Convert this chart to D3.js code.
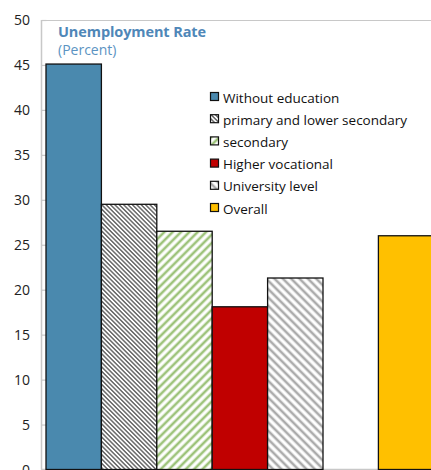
<!DOCTYPE html>
<html>
<head>
<meta charset="utf-8">
<script src="https://cdn.jsdelivr.net/npm/d3@7"></script>
<style>
  html, body { margin: 0; padding: 0; background: #fff; overflow: hidden; }
  svg { display: block; }
  text { font-family: "Open Sans", Lato, sans-serif; }
</style>
</head>
<body>
<svg id="chart" width="431" height="470"></svg>
<script>
// Unemployment rate by education level (percent)
const categories = ["Without education", "primary and lower secondary", "secondary",
                    "Higher vocational", "University level", "Overall"];
const values = [45.1, 29.5, 26.5, 18.1, 21.3, 26.0];
// position of each bar along the category axis (slot 5 is left empty)
const slots = [0, 1, 2, 3, 4, 6];
const slotCount = 7;
const yTicks = [0, 5, 10, 15, 20, 25, 30, 35, 40, 45, 50];
const fills = ["#4a89ae", "url(#hatchDense)", "url(#hatchGreen)", "#c00000", "url(#hatchGrey)", "#ffc000"];

const svg = d3.select("#chart");
const defs = svg.append("defs");

function hatch(id, spacing, stroke, strokeWidth, angle) {
  const p = defs.append("pattern")
    .attr("id", id)
    .attr("patternUnits", "userSpaceOnUse")
    .attr("width", spacing).attr("height", spacing)
    .attr("patternTransform", `rotate(${angle})`);
  p.append("rect").attr("width", spacing).attr("height", spacing).attr("fill", "#fff");
  p.append("line")
    .attr("x1", spacing / 2).attr("x2", spacing / 2)
    .attr("y1", 0).attr("y2", spacing)
    .attr("stroke", stroke).attr("stroke-width", strokeWidth);
}
hatch("hatchDense", 3.1, "#444", 1.2, -45);
hatch("hatchGreen", 5.9, "#9dc37a", 2.6, 45);
hatch("hatchGrey", 5.9, "#ababab", 2.6, -45);

const plot = { left: 41, top: 20, bottom: 469.5, barStart: 46, slotW: 55.4 };

const y = d3.scaleLinear().domain([0, 50]).range([plot.bottom, plot.top]);
const x = d3.scaleBand()
  .domain(d3.range(slotCount))
  .range([plot.barStart, plot.barStart + slotCount * plot.slotW])
  .padding(0);

// plot frame
svg.append("line").attr("x1", plot.left).attr("x2", 431)
  .attr("y1", plot.top + 0.5).attr("y2", plot.top + 0.5)
  .attr("stroke", "#c8c8c8").attr("stroke-width", 1);
svg.append("line").attr("x1", plot.left).attr("x2", 431)
  .attr("y1", plot.bottom).attr("y2", plot.bottom)
  .attr("stroke", "#c8c8c8").attr("stroke-width", 1.5);

// value axis with inward ticks
const yAxis = svg.append("g")
  .attr("transform", `translate(${plot.left + 0.5},0)`)
  .call(d3.axisRight(y).tickValues(yTicks).tickSize(5).tickFormat(""));
yAxis.select(".domain").attr("stroke", "#c8c8c8").attr("stroke-width", 1.5)
  .attr("d", `M0,${plot.top}V${plot.bottom}`);
yAxis.selectAll(".tick line").attr("stroke", "#c8c8c8").attr("stroke-width", 1.2);

svg.append("g").selectAll("text")
  .data(yTicks)
  .join("text")
  .attr("x", 30)
  .attr("y", d => y(d) + 5)
  .attr("text-anchor", "end")
  .attr("font-size", 14)
  .attr("fill", "#222")
  .text(d => d);

// bars
svg.append("g").selectAll("rect")
  .data(values)
  .join("rect")
  .attr("x", (d, i) => x(slots[i]))
  .attr("y", d => y(d))
  .attr("width", x.bandwidth())
  .attr("height", d => y(0) - y(d))
  .attr("fill", (d, i) => fills[i])
  .attr("stroke", "#111")
  .attr("stroke-width", 1.3);

// title
svg.append("text").attr("x", 58).attr("y", 37)
  .attr("font-size", 14.5).attr("font-weight", "bold").attr("fill", "#4f87b8")
  .attr("letter-spacing", -0.1)
  .text("Unemployment Rate");
svg.append("text").attr("x", 58).attr("y", 55)
  .attr("font-size", 14).attr("fill", "#5b93c2")
  .text("(Percent)");

// legend
const legend = svg.append("g").attr("transform", "translate(210,98)");
const rows = legend.selectAll("g")
  .data(categories)
  .join("g")
  .attr("transform", (d, i) => `translate(0,${i * 22.2})`);
rows.append("rect")
  .attr("x", 0.5).attr("y", -5.5)
  .attr("width", 8).attr("height", 8)
  .attr("fill", (d, i) => fills[i])
  .attr("stroke", "#111").attr("stroke-width", 1.2);
rows.append("text")
  .attr("x", 13).attr("y", 4.5)
  .attr("font-size", 13.5)
  .attr("fill", "#111")
  .text(d => d);
</script>
</body>
</html>
